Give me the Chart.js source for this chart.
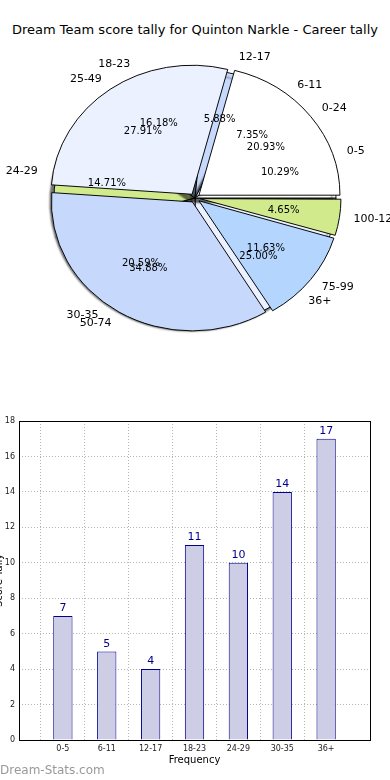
<!DOCTYPE html>
<html><head><meta charset="utf-8">
<script src="https://cdn.jsdelivr.net/npm/chart.js@4.4.0/dist/chart.umd.min.js"></script>
<style>
html,body{margin:0;padding:0;background:#fff;}
body{width:390px;height:780px;position:relative;overflow:hidden;font-family:"DejaVu Sans",sans-serif;}
#title{position:absolute;left:0;top:22px;width:390px;text-align:center;font-size:13px;line-height:15px;color:#000;white-space:nowrap;}
canvas{position:absolute;left:0;}
#pieBack,#pieFront{top:0;}
#bar{top:400px;}
#wm{position:absolute;left:0;top:763px;font-size:12px;line-height:14px;color:#999;}
</style></head><body>
<div id="title">Dream Team score tally for Quinton Narkle - Career tally</div>
<canvas id="pieBack" width="390" height="396"></canvas>
<canvas id="pieFront" width="390" height="396"></canvas>
<canvas id="bar" width="390" height="380"></canvas>
<div id="wm">Dream-Stats.com</div>
<script>
// ---- data ----
const fineCategories = ['0-5', '6-11', '12-17', '18-23', '24-29', '30-35', '36+'];
const fineTally = [7, 5, 4, 11, 10, 14, 17];
const coarseCategories = ['0-24', '25-49', '50-74', '75-99', '100-124'];
const coarseTally = [9, 12, 15, 5, 2];
const yTickMax = 18;
const yTickStep = 2;
const barXTitle = 'Frequency';
const barYTitle = 'Score Tally';

// ---- styles ----
const palette = ['#ffffff', '#ebf1fe', '#c6d9fd', '#b4d5fe', '#d0ea8c'];
const PIE_R = 141, SY = 0.915, EXPL = 5;
const fineColors = fineCategories.map((_, i) => palette[i % palette.length]);
const coarseColors = coarseCategories.map((_, i) => palette[i % palette.length]);
const rev = a => a.slice().reverse();

function ellipsePlugin(shadow, fixRadius) {
  return {
    id: 'ellipse',
    beforeDatasetsDraw(chart) {
      const meta = chart.getDatasetMeta(0);
      const a = meta.data[0];
      if (fixRadius) {
        meta.data.forEach(arc => {
          const circ = arc.endAngle - arc.startAngle;
          const fix = 1 - Math.sin(Math.min(Math.PI, circ));
          arc.outerRadius = PIE_R - EXPL * fix;
        });
      }
      const ctx = chart.ctx;
      ctx.save();
      ctx.translate(a.x, a.y); ctx.scale(1, SY); ctx.translate(-a.x, -a.y);
      if (shadow) {
        ctx.shadowColor = 'rgba(0,0,0,0.55)';
        ctx.shadowOffsetX = -4; ctx.shadowOffsetY = 4; ctx.shadowBlur = 2;
      }
    },
    afterDatasetsDraw(chart) { chart.ctx.restore(); }
  };
}

function pieOpts() {
  return {
    responsive: false, animation: false, events: [],
    rotation: 90, radius: PIE_R,
    layout: { padding: 0 },
    plugins: { legend: { display: false }, tooltip: { enabled: false } }
  };
}

const backChart = new Chart(document.getElementById('pieBack'), {
  type: 'pie',
  data: { labels: rev(fineCategories), datasets: [{ data: rev(fineTally), backgroundColor: rev(fineColors), borderColor: '#000', borderWidth: 1 }] },
  options: pieOpts(),
  plugins: [ellipsePlugin(true, false)]
});

function drawPieTexts(chart, ctx) {
  const meta = chart.getDatasetMeta(0);
  const labels = chart.data.labels;
  const vals = chart.data.datasets[0].data;
  const total = vals.reduce((s, v) => s + v, 0);
  meta.data.forEach((arc, i) => {
    const mid = (arc.startAngle + arc.endAngle) / 2;
    const c = Math.cos(mid), s = Math.sin(mid);
    const lx = arc.x + (EXPL + 1.1 * PIE_R) * c;
    const ly = arc.y + (EXPL + 1.1 * PIE_R) * s * SY;
    ctx.font = '11px "DejaVu Sans"';
    ctx.textAlign = c > 0 ? 'left' : 'right';
    ctx.fillText(labels[i], lx, ly);
    const px = arc.x + (EXPL + 0.6 * PIE_R) * c;
    const py = arc.y + (EXPL + 0.6 * PIE_R) * s * SY;
    ctx.font = '10px "DejaVu Sans"';
    ctx.textAlign = 'center';
    ctx.fillText((vals[i] / total * 100).toFixed(2) + '%', px, py);
  });
}

const pieLabelPlugin = {
  id: 'pieLabels',
  afterDraw(chart) {
    const ctx = chart.ctx;
    ctx.save();
    ctx.fillStyle = '#000';
    ctx.textBaseline = 'middle';
    drawPieTexts(backChart, ctx);
    drawPieTexts(chart, ctx);
    ctx.restore();
  }
};

new Chart(document.getElementById('pieFront'), {
  type: 'pie',
  data: { labels: rev(coarseCategories), datasets: [{ data: rev(coarseTally), backgroundColor: rev(coarseColors), borderColor: '#000', borderWidth: 1, offset: EXPL * 4 }] },
  options: pieOpts(),
  plugins: [ellipsePlugin(false, true), pieLabelPlugin]
});

// ---- bar chart ----
const barLabels = [''].concat(fineCategories, ['']);
const barData = [null].concat(fineTally, [null]);
const gridCol = '#b5b5b5';

const barDecor = {
  id: 'barDecor',
  afterDatasetsDraw(chart) {
    const ctx = chart.ctx;
    ctx.save();
    ctx.font = '11px "DejaVu Sans"';
    ctx.fillStyle = '#00008b';
    ctx.textAlign = 'center';
    ctx.textBaseline = 'bottom';
    chart.getDatasetMeta(0).data.forEach((el, i) => {
      const v = chart.data.datasets[0].data[i];
      if (v == null) return;
      ctx.fillText(String(v), el.x, el.y - 2);
    });
    ctx.restore();
  },
  afterDraw(chart) {
    const ctx = chart.ctx, ca = chart.chartArea;
    ctx.save();
    ctx.strokeStyle = '#000'; ctx.lineWidth = 1;
    ctx.strokeRect(Math.round(ca.left) + 0.5, Math.round(ca.top) + 0.5, Math.round(ca.right - ca.left), Math.round(ca.bottom - ca.top));
    ctx.fillStyle = '#000';
    ctx.font = '10px "DejaVu Sans"';
    ctx.textAlign = 'center'; ctx.textBaseline = 'middle';
    ctx.fillText(barXTitle, (ca.left + ca.right) / 2, ca.bottom + 20);
    ctx.translate(-0.5, (ca.top + ca.bottom) / 2);
    ctx.rotate(-Math.PI / 2);
    ctx.fillText(barYTitle, 0, 0);
    ctx.restore();
  }
};

new Chart(document.getElementById('bar'), {
  type: 'bar',
  data: { labels: barLabels, datasets: [{ data: barData, backgroundColor: '#cdcde6', borderColor: '#00008b', borderWidth: 1, barPercentage: 0.44, categoryPercentage: 1 }] },
  options: {
    responsive: false, animation: false, events: [],
    layout: { padding: { left: 0, right: 20, top: 21, bottom: 0 } },
    plugins: { legend: { display: false }, tooltip: { enabled: false } },
    scales: {
      x: {
        offset: false,
        grid: { color: c => (c.index === 0 || c.index === barLabels.length - 1) ? 'rgba(0,0,0,0)' : gridCol, drawTicks: false },
        border: { display: false, dash: [1, 2] },
        ticks: { font: { family: 'DejaVu Sans', size: 8 }, color: '#222', padding: 4, maxRotation: 0, autoSkip: false },
        afterFit: s => { s.height = 40; }
      },
      y: {
        min: 0, max: yTickMax,
        grid: { color: gridCol, drawTicks: false },
        border: { display: false, dash: [1, 2] },
        ticks: { stepSize: yTickStep, font: { family: 'DejaVu Sans', size: 8 }, color: '#222', padding: 4 },
        afterFit: s => { s.width = 19; }
      }
    }
  },
  plugins: [barDecor]
});
</script>
</body></html>
